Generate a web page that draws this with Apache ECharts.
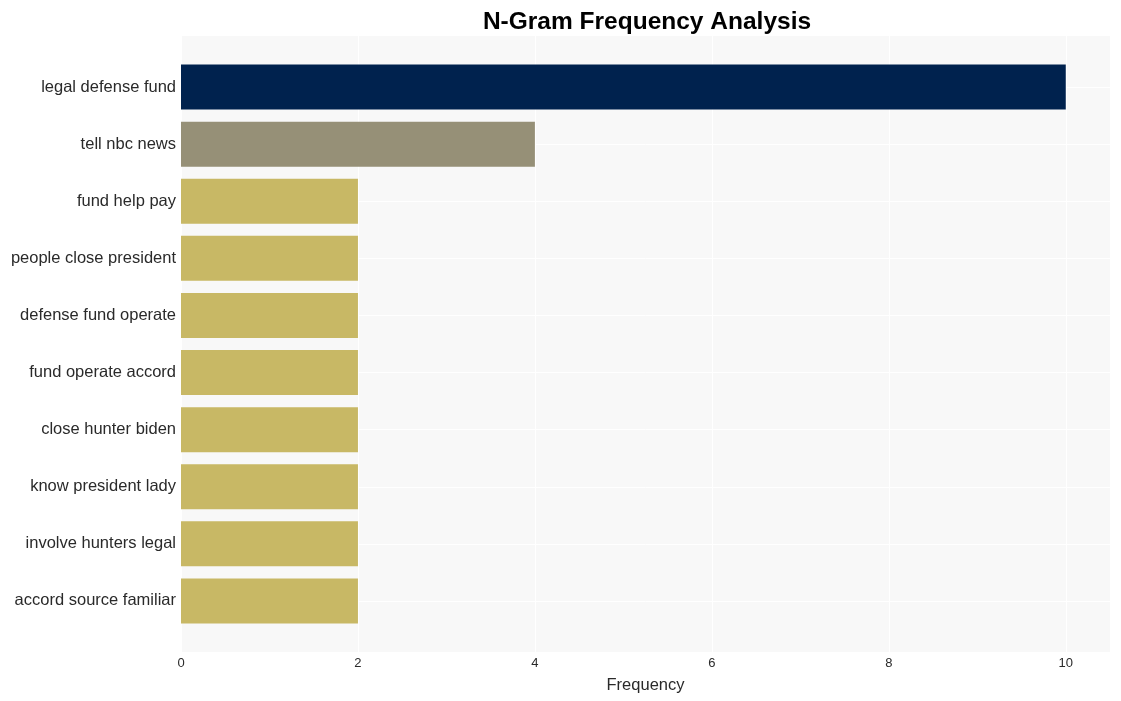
<!DOCTYPE html>
<html>
<head>
<meta charset="utf-8">
<script src="https://cdn.jsdelivr.net/npm/echarts@6/dist/echarts.min.js"></script>
<style>html,body{margin:0;padding:0;background:#fff;}#c{width:1121px;height:701px;}</style>
</head>
<body>
<div id="c"></div>
<script>
const categories = ["legal defense fund","tell nbc news","fund help pay","people close president","defense fund operate","fund operate accord","close hunter biden","know president lady","involve hunters legal","accord source familiar"];
const values = [10,4,2,2,2,2,2,2,2,2];
const barColors = ["#00224e","#969077","#c8b865","#c8b865","#c8b865","#c8b865","#c8b865","#c8b865","#c8b865","#c8b865"];
const xTicks = [0,2,4,6,8,10];

const font = "'Liberation Sans', Arial, sans-serif";
const chart = echarts.init(document.getElementById('c'));
chart.setOption({
  animation: false,
  title: {text: "N-Gram Frequency Analysis", left: 642, textAlign: 'center', top: 5,
    textStyle: {fontFamily: font, fontSize: 24.5, fontWeight: 'bold', color: '#000'}},
  grid: [
    {left: 181, right: 11, top: 36, bottom: 49, show: true, backgroundColor: '#f8f8f8', borderWidth: 0},
    {left: 181, right: 11, top: 58.5, bottom: 71.5}
  ],
  xAxis: [
    {gridIndex: 0, type: 'value', min: 0, max: 10.5, interval: 2,
      name: 'Frequency', nameLocation: 'middle', nameGap: 25,
      nameTextStyle: {fontFamily: font, fontSize: 16.5, color: '#2a2a2a', padding: [0, 0, 2, 0]},
      axisLine: {show: false}, axisTick: {show: false},
      axisLabel: {fontFamily: font, fontSize: 13, color: '#2a2a2a', margin: 5,
        formatter: v => xTicks.includes(v) ? String(v) : ''},
      splitLine: {show: true, lineStyle: {color: '#ffffff', width: 1}}},
    {gridIndex: 1, type: 'value', min: 0, max: 10.5, show: false, splitLine: {show: false}}
  ],
  yAxis: [
    {gridIndex: 0, type: 'value', show: false, splitLine: {show: false}},
    {gridIndex: 1, type: 'category', inverse: true, data: categories,
      axisLine: {show: false}, axisTick: {show: false}, splitLine: {show: false},
      axisLabel: {fontFamily: font, fontSize: 16.5, color: '#2a2a2a', margin: 5,
        verticalAlign: 'middle', lineHeight: 16, padding: [4, 0, 0, 0]}}
  ],
  series: [{
    type: 'bar', xAxisIndex: 1, yAxisIndex: 1, barWidth: 45,
    data: values.map((v, i) => ({value: v, itemStyle: {color: barColors[i]}})),
    markLine: {
      silent: true, symbol: 'none', z: 1, label: {show: false},
      lineStyle: {color: '#ffffff', width: 1, type: 'solid'},
      data: categories.map(c => ({yAxis: c}))
    }
  }]
});
</script>
</body>
</html>
